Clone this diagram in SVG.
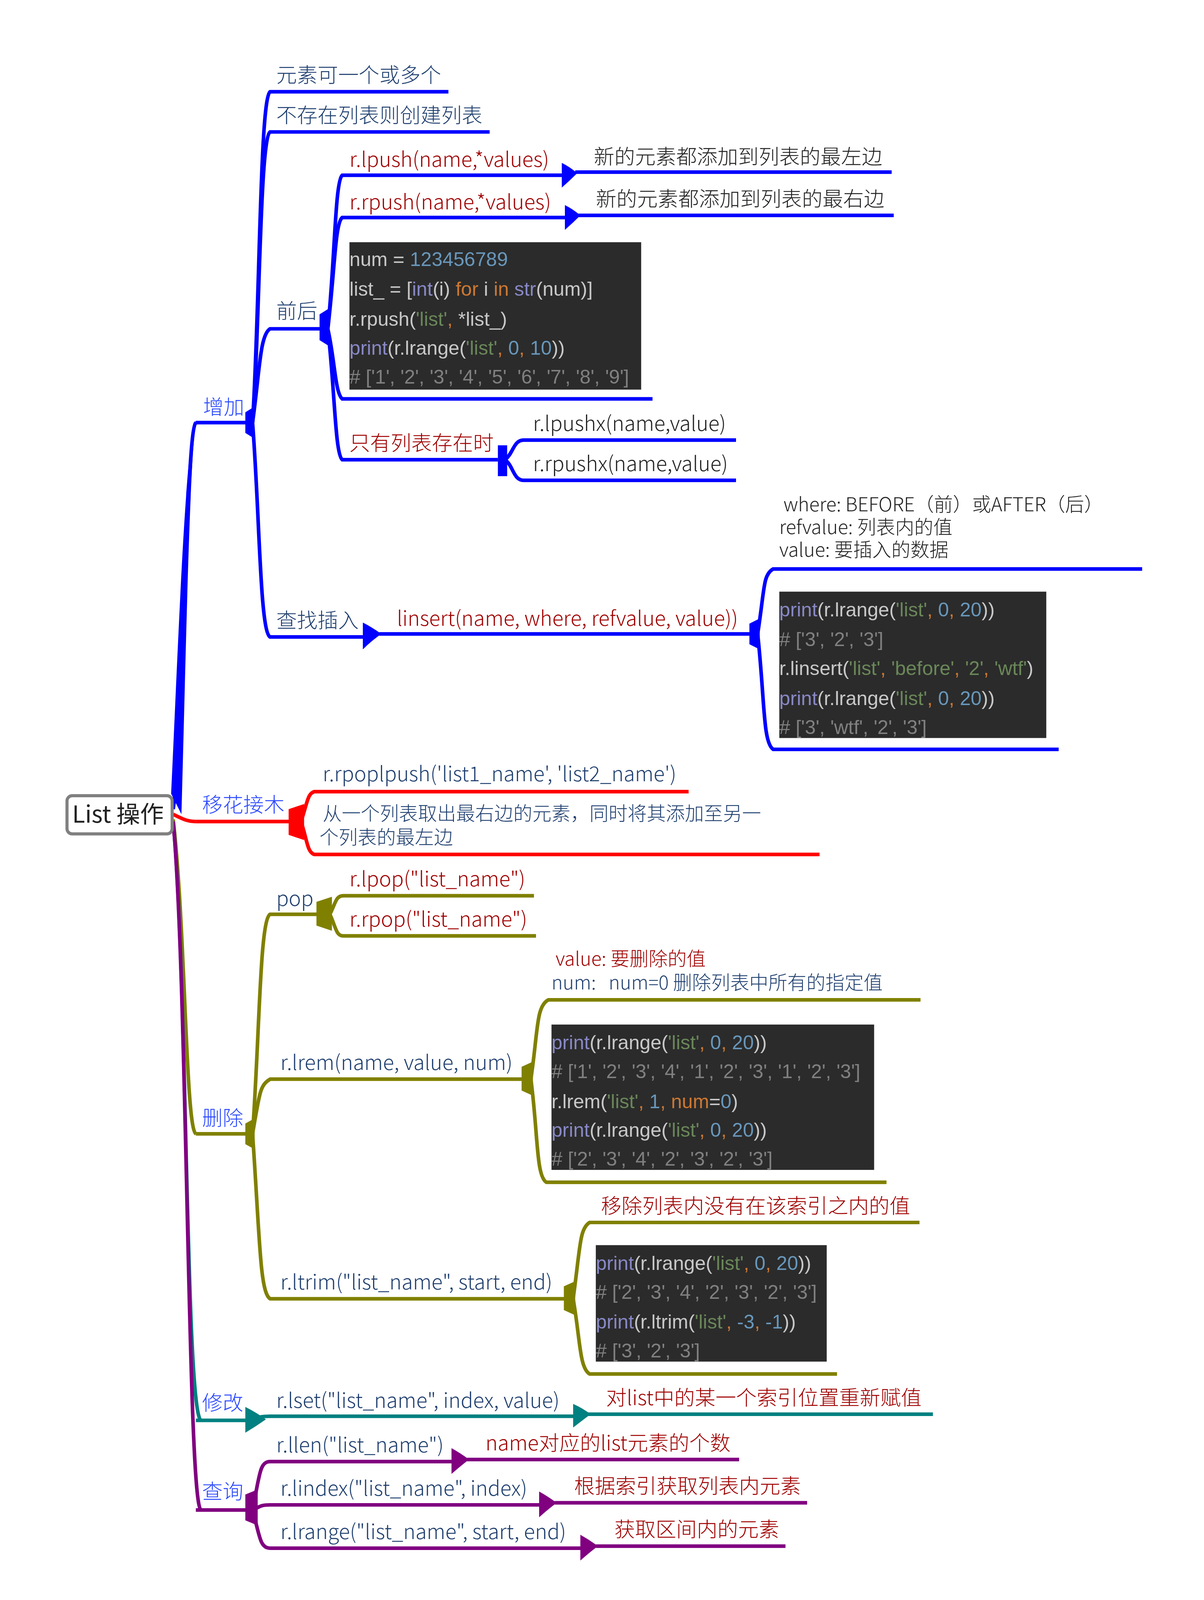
<svg xmlns="http://www.w3.org/2000/svg" width="3082" height="4125" viewBox="0 0 3082 4125">
<style>
text{font-family:"Noto Sans CJK SC","Liberation Sans",sans-serif;font-weight:300;font-size:20px}
.m{font-size:18.5px}
.db{fill:#1f3f6f}.rd{fill:#a00000}.bk{fill:#222}.br{fill:#2a48ff}
.b{stroke:#0000ff}.r{stroke:#ff0000}.o{stroke:#808000}.t{stroke:#008080}.p{stroke:#800080}
.ln{fill:none;stroke-width:3.5}
.fb{fill:#0000ff}.fo{fill:#808000}.ft{fill:#008080}.fp{fill:#800080}.fr{fill:#ff0000}
.code{fill:#2b2b2b}
.c text{font-family:"Liberation Sans",sans-serif;font-weight:400;font-size:19px}
.w{fill:#c8c8c8}.k{fill:#8888c6}.s{fill:#6a8759}.n{fill:#6897bb}.g{fill:#808080}.or{fill:#cc7832}
</style>
<rect width="3082" height="4125" fill="#fff"/>
<g transform="scale(2.6387)">
<g id="connectors">
<path class="ln b" stroke-width="6" d="M168,785 C180,700 180,420 190,410"/>
<path class="fb" d="M166,770 C174,600 180,430 190,408 L190,412 C184,440 180,650 176,790 Z"/>
<path class="ln r" d="M168,790 C178,795 182,797 190,797"/>
<path class="ln o" d="M168,795 C180,900 180,1095 190,1100"/>
<path class="ln t" d="M168,797 C182,950 180,1370 195,1378"/>
<path class="ln p" d="M168,797 C182,950 182,1460 195,1465"/>
<path class="ln b" d="M190,410 L245,410"/><path class="ln r" d="M190,797 L282,797"/>
<path class="ln o" d="M190,1100 L245,1100"/><path class="ln t" d="M190,1378 L245,1378"/>
<path class="ln p" d="M190,1465 L245,1465"/>
<path class="fb" d="M238,400 L246,395 L246,425 L238,420 Z"/>
<path class="ln b" d="M245,410 C252,300 252,95 262,89 L435,89"/>
<path class="ln b" d="M245,410 C252,320 252,134 262,128 L475,128"/>
<path class="ln b" d="M245,410 C252,360 252,325 262,319 L318,319"/>
<path class="ln b" d="M245,410 C252,500 252,612 262,618 L358,618"/>
<path class="fb" d="M310,305 L318,300 L318,335 L310,330 Z"/>
<path class="ln b" d="M318,319 C325,250 325,176 332,170 L545,170"/>
<path class="ln b" d="M318,319 C325,260 325,217 332,211 L548,211"/>
<path class="ln b" d="M318,319 C325,350 325,381 332,387 L633,387"/>
<path class="ln b" d="M318,319 C325,380 325,440 332,446 L483,446"/>
<path class="fb" d="M545,158 Q553,162 560,168 Q553,175 545,182 Z"/><path class="ln b" d="M558,167 L865,167"/>
<path class="fb" d="M548,199 Q556,203 563,209 Q556,216 548,223 Z"/><path class="ln b" d="M561,209 L867,209"/>
<path class="fb" d="M483,432 L492,432 L492,462 L483,462 Z"/>
<path class="ln b" d="M490,446 C498,440 498,427 508,427 L714,427"/>
<path class="ln b" d="M490,446 C498,452 498,466 508,466 L714,466"/>
<path class="fb" d="M352,604 Q360,608 370,615 Q360,622 352,630 Z"/><path class="ln b" d="M368,615 L735,615"/>
<path class="fb" d="M727,605 L737,600 L737,630 L727,625 Z"/>
<path class="ln b" d="M735,615 C742,570 740,558 750,552 L1108,552"/>
<path class="ln b" d="M735,615 C742,680 740,720 750,727 L1027,727"/>
<path class="fr" d="M280,785 L295,780 L295,815 L280,810 Z"/>
<path class="ln r" d="M292,797 C298,780 298,770 305,768 L668,768"/>
<path class="ln r" d="M292,797 C298,815 298,827 305,829 L795,829"/>
<path class="fo" d="M238,1090 L247,1085 L247,1115 L238,1110 Z"/>
<path class="ln o" d="M245,1100 C252,1000 252,893 262,887 L310,887"/>
<path class="ln o" d="M245,1100 C252,1060 252,1053 262,1047 L508,1047"/>
<path class="ln o" d="M245,1100 C252,1200 252,1254 262,1260 L548,1260"/>
<path class="fo" d="M307,875 L322,870 L322,903 L307,898 Z"/>
<path class="ln o" d="M320,887 C326,875 326,869 333,869 L518,869"/>
<path class="ln o" d="M320,887 C326,900 326,908 333,908 L520,908"/>
<path class="fo" d="M506,1035 L517,1030 L517,1063 L506,1058 Z"/>
<path class="ln o" d="M515,1047 C522,1000 520,976 532,970 L893,970"/>
<path class="ln o" d="M515,1047 C522,1100 520,1141 530,1147 L860,1147"/>
<path class="fo" d="M547,1248 L558,1243 L558,1276 L547,1271 Z"/>
<path class="ln o" d="M556,1260 C563,1210 562,1192 572,1186 L892,1186"/>
<path class="ln o" d="M556,1260 C563,1300 562,1327 572,1333 L812,1333"/>
<path class="ln t" d="M245,1378 C252,1375 252,1374 262,1374 L558,1374"/>
<path class="ft" d="M238,1365 Q248,1370 258,1377 Q248,1384 238,1390 Z"/>
<path class="ft" d="M556,1362 Q565,1366 573,1372 Q565,1378 556,1385 Z"/><path class="ln t" d="M570,1372 L905,1372"/>
<path class="fp" d="M238,1450 L250,1445 L250,1480 L238,1475 Z"/>
<path class="ln p" d="M245,1465 C252,1430 252,1418 262,1418 L440,1418"/>
<path class="ln p" d="M245,1465 C252,1462 252,1460 262,1460 L525,1460"/>
<path class="ln p" d="M245,1465 C252,1490 252,1502 262,1502 L565,1502"/>
<path class="fp" d="M438,1405 Q447,1410 455,1416 Q447,1422 438,1430 Z"/><path class="ln p" d="M453,1416 L717,1416"/>
<path class="fp" d="M523,1447 Q532,1452 540,1458 Q532,1464 523,1472 Z"/><path class="ln p" d="M538,1458 L783,1458"/>
<path class="fp" d="M563,1489 Q572,1494 580,1500 Q572,1506 563,1514 Z"/><path class="ln p" d="M578,1500 L762,1500"/>
</g>
<g id="root"><rect x="65" y="772" width="102" height="37" rx="5" fill="#fff" stroke="#808080" stroke-width="3"/><text x="70" y="798" font-size="23" fill="#222" style="font-size:23px;font-weight:400">List 操作</text></g>
<g id="n-zengjia"><text class="br" x="197" y="402">增加</text></g>
<g id="n-yihua"><text class="br" x="196" y="788">移花接木</text></g>
<g id="n-shanchu"><text class="br" x="196" y="1092">删除</text></g>
<g id="n-xiugai"><text class="br" x="196" y="1368">修改</text></g>
<g id="n-chaxun"><text class="br" x="196" y="1454">查询</text></g>
<g id="n1"><text class="db" x="268" y="80">元素可一个或多个</text></g>
<g id="n2"><text class="db" x="268" y="119">不存在列表则创建列表</text></g>
<g id="n3"><text class="db" x="268" y="309">前后</text></g>
<g id="n4"><text class="rd" x="339" y="162">r.lpush(name,*values)</text></g>
<g id="n5"><text class="bk" x="576" y="159">新的元素都添加到列表的最左边</text></g>
<g id="n6"><text class="rd" x="339" y="203">r.rpush(name,*values)</text></g>
<g id="n7"><text class="bk" x="578" y="200">新的元素都添加到列表的最右边</text></g>
<g id="code1" class="c"><rect class="code" x="339" y="235" width="283" height="143"/>
<text x="339" y="258"><tspan class="w">num = </tspan><tspan class="n">123456789</tspan></text>
<text x="339" y="287"><tspan class="w">list_ = [</tspan><tspan class="k">int</tspan><tspan class="w">(i) </tspan><tspan class="or">for</tspan><tspan class="w"> i </tspan><tspan class="or">in</tspan><tspan class="w"> </tspan><tspan class="k">str</tspan><tspan class="w">(num)]</tspan></text>
<text x="339" y="316"><tspan class="w">r.rpush(</tspan><tspan class="s">'list'</tspan><tspan class="or">, </tspan><tspan class="w">*list_)</tspan></text>
<text x="339" y="344"><tspan class="k">print</tspan><tspan class="w">(r.lrange(</tspan><tspan class="s">'list'</tspan><tspan class="or">, </tspan><tspan class="n">0</tspan><tspan class="or">, </tspan><tspan class="n">10</tspan><tspan class="w">))</tspan></text>
<text x="339" y="372" class="g"># ['1', '2', '3', '4', '5', '6', '7', '8', '9']</text></g>
<g id="n8"><text class="rd" x="339" y="437">只有列表存在时</text></g>
<g id="n9"><text class="bk" x="517" y="418">r.lpushx(name,value)</text></g>
<g id="n10"><text class="bk" x="517" y="457">r.rpushx(name,value)</text></g>
<g id="n11"><text class="db" x="268" y="609">查找插入</text></g>
<g id="n12"><text class="rd" x="385" y="607">linsert(name, where, refvalue, value))</text></g>
<g id="n13"><text class="bk m" x="760" y="496">where: BEFORE（前）或AFTER（后）</text><text class="bk m" x="756" y="518">refvalue: 列表内的值</text><text class="bk m" x="756" y="540">value: 要插入的数据</text></g>
<g id="code2" class="c"><rect class="code" x="756" y="574" width="259" height="142"/>
<text x="756" y="598"><tspan class="k">print</tspan><tspan class="w">(r.lrange(</tspan><tspan class="s">'list'</tspan><tspan class="or">, </tspan><tspan class="n">0</tspan><tspan class="or">, </tspan><tspan class="n">20</tspan><tspan class="w">))</tspan></text>
<text x="756" y="627" class="g"># ['3', '2', '3']</text>
<text x="756" y="655"><tspan class="w">r.linsert(</tspan><tspan class="s">'list'</tspan><tspan class="or">, </tspan><tspan class="s">'before'</tspan><tspan class="or">, </tspan><tspan class="s">'2'</tspan><tspan class="or">, </tspan><tspan class="s">'wtf'</tspan><tspan class="w">)</tspan></text>
<text x="756" y="684"><tspan class="k">print</tspan><tspan class="w">(r.lrange(</tspan><tspan class="s">'list'</tspan><tspan class="or">, </tspan><tspan class="n">0</tspan><tspan class="or">, </tspan><tspan class="n">20</tspan><tspan class="w">))</tspan></text>
<text x="756" y="712" class="g"># ['3', 'wtf', '2', '3']</text></g>
<g id="n14"><text class="db" x="313" y="758">r.rpoplpush('list1_name', 'list2_name')</text></g>
<g id="n15"><text class="db m" x="313" y="796">从一个列表取出最右边的元素，同时将其添加至另一</text><text class="db m" x="310" y="819">个列表的最左边</text></g>
<g id="n16"><text class="db" x="268" y="879">pop</text></g>
<g id="n17"><text class="rd" x="339" y="860">r.lpop("list_name")</text></g>
<g id="n18"><text class="rd" x="339" y="899">r.rpop("list_name")</text></g>
<g id="n19"><text class="db" x="272" y="1038">r.lrem(name, value, num)</text></g>
<g id="n20"><text class="rd m" x="539" y="937">value: 要删除的值</text><text class="db m" x="535" y="960" xml:space="preserve">num:   num=0 删除列表中所有的指定值</text></g>
<g id="code3" class="c"><rect class="code" x="535" y="994" width="313" height="141"/>
<text x="535" y="1018"><tspan class="k">print</tspan><tspan class="w">(r.lrange(</tspan><tspan class="s">'list'</tspan><tspan class="or">, </tspan><tspan class="n">0</tspan><tspan class="or">, </tspan><tspan class="n">20</tspan><tspan class="w">))</tspan></text>
<text x="535" y="1046" class="g"># ['1', '2', '3', '4', '1', '2', '3', '1', '2', '3']</text>
<text x="535" y="1075"><tspan class="w">r.lrem(</tspan><tspan class="s">'list'</tspan><tspan class="or">, </tspan><tspan class="n">1</tspan><tspan class="or">, num</tspan><tspan class="w">=</tspan><tspan class="n">0</tspan><tspan class="w">)</tspan></text>
<text x="535" y="1103"><tspan class="k">print</tspan><tspan class="w">(r.lrange(</tspan><tspan class="s">'list'</tspan><tspan class="or">, </tspan><tspan class="n">0</tspan><tspan class="or">, </tspan><tspan class="n">20</tspan><tspan class="w">))</tspan></text>
<text x="535" y="1131" class="g"># ['2', '3', '4', '2', '3', '2', '3']</text></g>
<g id="n21"><text class="db" x="272" y="1251">r.ltrim("list_name", start, end)</text></g>
<g id="n22"><text class="rd" x="583" y="1177">移除列表内没有在该索引之内的值</text></g>
<g id="code4" class="c"><rect class="code" x="578" y="1208" width="224" height="113"/>
<text x="578" y="1232"><tspan class="k">print</tspan><tspan class="w">(r.lrange(</tspan><tspan class="s">'list'</tspan><tspan class="or">, </tspan><tspan class="n">0</tspan><tspan class="or">, </tspan><tspan class="n">20</tspan><tspan class="w">))</tspan></text>
<text x="578" y="1260" class="g"># ['2', '3', '4', '2', '3', '2', '3']</text>
<text x="578" y="1289"><tspan class="k">print</tspan><tspan class="w">(r.ltrim(</tspan><tspan class="s">'list'</tspan><tspan class="or">, </tspan><tspan class="n">-3</tspan><tspan class="or">, </tspan><tspan class="n">-1</tspan><tspan class="w">))</tspan></text>
<text x="578" y="1317" class="g"># ['3', '2', '3']</text></g>
<g id="n23"><text class="db" x="268" y="1366">r.lset("list_name", index, value)</text></g>
<g id="n24"><text class="rd" x="588" y="1363">对list中的某一个索引位置重新赋值</text></g>
<g id="n25"><text class="db" x="268" y="1409">r.llen("list_name")</text></g>
<g id="n26"><text class="rd" x="471" y="1407">name对应的list元素的个数</text></g>
<g id="n27"><text class="db" x="272" y="1451">r.lindex("list_name", index)</text></g>
<g id="n28"><text class="rd" x="557" y="1449">根据索引获取列表内元素</text></g>
<g id="n29"><text class="db" x="272" y="1493">r.lrange("list_name", start, end)</text></g>
<g id="n30"><text class="rd" x="596" y="1491">获取区间内的元素</text></g>
<text x="1015" y="1560" style="font-family:'Liberation Mono',monospace;font-size:6px;font-weight:400" fill="#d0d0d0">https://blog.csdn.net/weixin_42105977</text>
</g>
</svg>
